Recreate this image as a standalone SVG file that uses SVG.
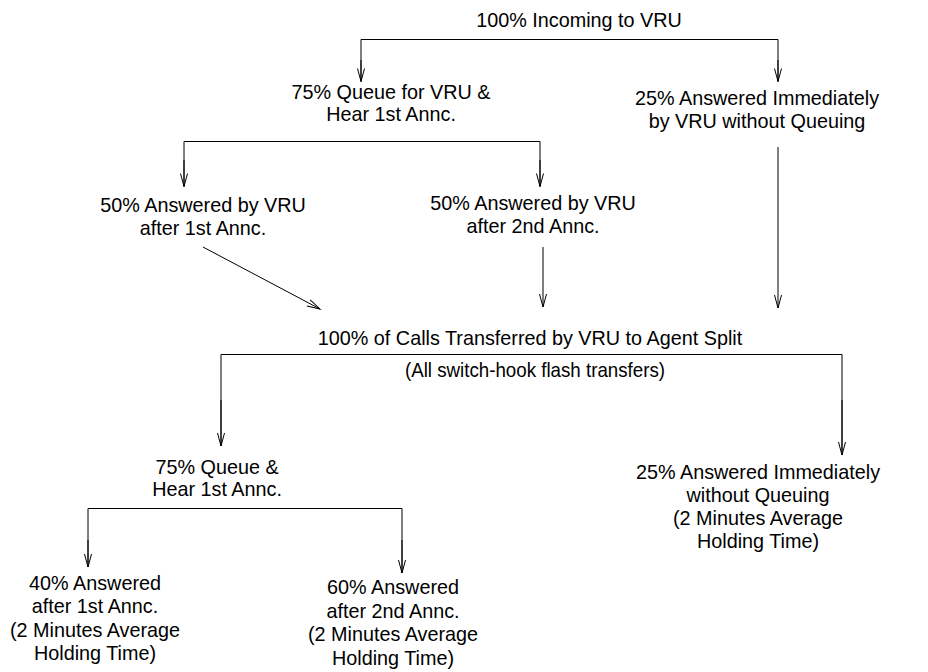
<svg xmlns="http://www.w3.org/2000/svg" width="928" height="672" viewBox="0 0 928 672">
<style>
text{font-family:"Liberation Sans",Arial,sans-serif;font-size:19.8px;fill:#000;text-anchor:middle}
.c{fill:none;stroke:#000;stroke-width:1}
.a{marker-end:url(#ah)}
</style>
<defs>
<marker id="ah" markerUnits="userSpaceOnUse" markerWidth="16" markerHeight="10" viewBox="-14 -5 16 10" refX="0" refY="0" orient="auto" overflow="visible">
<path d="M-13,-3.5 L0,0 L-13,3.5" fill="none" stroke="#000" stroke-width="1"/>
</marker>
</defs>
<rect width="928" height="672" fill="#fff"/>
<g id="connectors">
<path class="c" d="M361,81.5 V39.5 H778 V81.5"/>
<path class="c a" d="M361,60 V81.5"/>
<path class="c a" d="M778,60 V81.5"/>
<path class="c" d="M184,186.5 V141.5 H540 V186.5"/>
<path class="c a" d="M184,160 V186.5"/>
<path class="c a" d="M540,160 V186.5"/>
<path class="c a" d="M203,247 L320,309"/>
<path class="c a" d="M543,247 V307"/>
<path class="c a" d="M778,147 V308"/>
<path class="c" d="M221,446 V354.5 H842 V455"/>
<path class="c a" d="M221,400 V446"/>
<path class="c a" d="M842,400 V455"/>
<path class="c" d="M88,567 V508.5 H402 V573"/>
<path class="c a" d="M88,540 V567"/>
<path class="c a" d="M402,540 V573"/>
</g>
<g id="n-incoming"><text x="579" y="26.5">100% Incoming to VRU</text></g>
<g id="n-queue-vru"><text x="391" y="99">75% Queue for VRU &amp;</text><text x="391" y="121">Hear 1st Annc.</text></g>
<g id="n-answered-immediately-vru"><text x="757" y="105">25% Answered Immediately</text><text x="757" y="128">by VRU without Queuing</text></g>
<g id="n-vru-1st"><text x="203" y="212">50% Answered by VRU</text><text x="203" y="235">after 1st Annc.</text></g>
<g id="n-vru-2nd"><text x="533" y="210">50% Answered by VRU</text><text x="533" y="233">after 2nd Annc.</text></g>
<g id="n-transferred"><text x="530" y="345">100% of Calls Transferred by VRU to Agent Split</text></g>
<g id="n-flash"><text x="535" y="377" textLength="260" lengthAdjust="spacingAndGlyphs">(All switch-hook flash transfers)</text></g>
<g id="n-queue-agent"><text x="217" y="474">75% Queue &amp;</text><text x="217" y="496">Hear 1st Annc.</text></g>
<g id="n-answered-immediately-agent"><text x="758" y="479">25% Answered Immediately</text><text x="758" y="502">without Queuing</text><text x="758" y="525">(2 Minutes Average</text><text x="758" y="548">Holding Time)</text></g>
<g id="n-agent-1st"><text x="95" y="590">40% Answered</text><text x="95" y="613">after 1st Annc.</text><text x="95" y="637">(2 Minutes Average</text><text x="95" y="660">Holding Time)</text></g>
<g id="n-agent-2nd"><text x="393" y="594">60% Answered</text><text x="393" y="618">after 2nd Annc.</text><text x="393" y="641">(2 Minutes Average</text><text x="393" y="665">Holding Time)</text></g>
</svg>
